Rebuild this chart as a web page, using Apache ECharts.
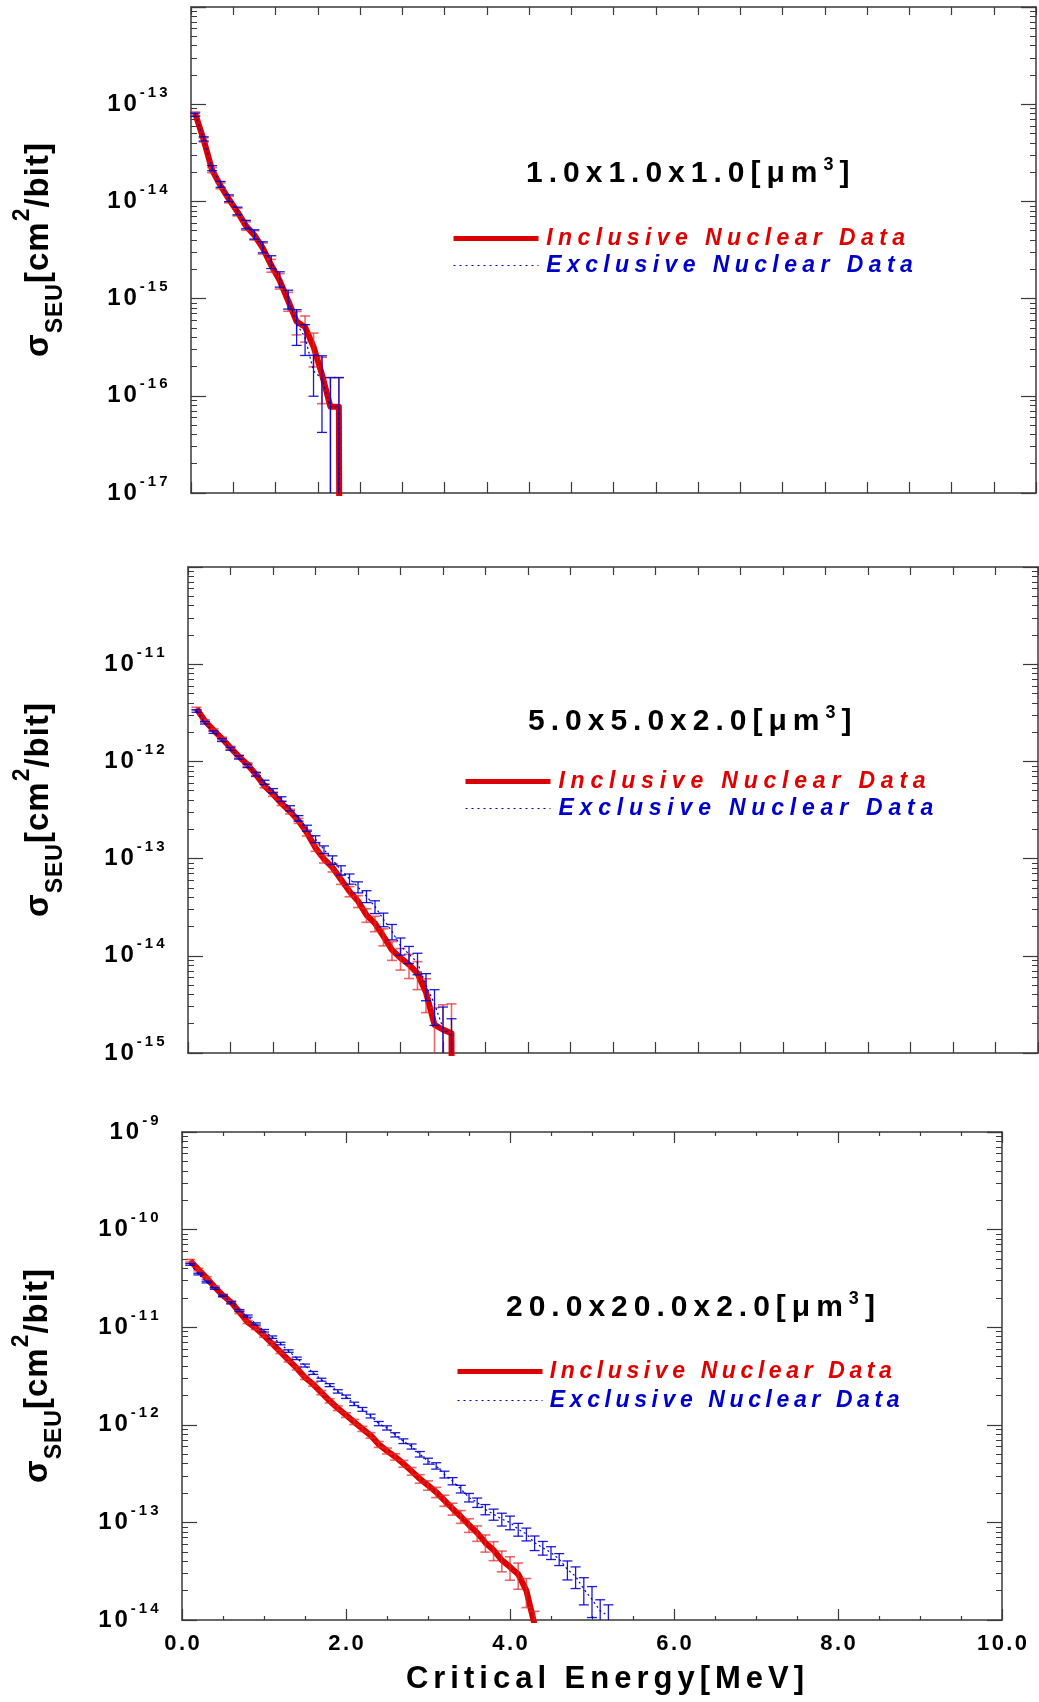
<!DOCTYPE html>
<html>
<head>
<meta charset="utf-8">
<script src="https://cdn.jsdelivr.net/npm/echarts@6.0.0/dist/echarts.min.js"></script>
<style>
html,body{margin:0;padding:0;background:#ffffff;}
#chart{width:1039px;height:1702px;}
</style>
</head>
<body>
<div id="chart"></div>
<script>
// ================= DATA =================
// Panel 1 : 1.0x1.0x1.0 [um^3]
const energy1 = [0.05,0.15,0.25,0.35,0.45,0.55,0.65,0.75,0.85,0.95,1.05,1.15,1.25,1.35,1.45,1.55,1.65,1.75,1.85];
const inclusive1 = [8.0e-14,4.3e-14,2.1e-14,1.45e-14,1.05e-14,7.8e-15,5.6e-15,4.5e-15,3.3e-15,2.2e-15,1.53e-15,9.5e-16,5.8e-16,5.1e-16,3.2e-16,1.66e-16,7.7e-17,7.7e-17,0];
const inclusiveErr1 = [0.04,0.05,0.06,0.07,0.08,0.09,0.1,0.11,0.13,0.15,0.18,0.22,0.27,0.3,0.38,0.5,1.0,1.0,0];
const exclusive1 = [7.8e-14,4.4e-14,2.2e-14,1.5e-14,1.08e-14,8.0e-15,5.8e-15,4.6e-15,3.4e-15,2.4e-15,1.6e-15,1.0e-15,5.5e-16,4.0e-16,1.8e-16,1.5e-16,7.7e-17,7.7e-17,0];
const exclusiveErr1 = [0.04,0.05,0.06,0.07,0.08,0.09,0.1,0.11,0.13,0.15,0.18,0.22,0.4,0.35,0.45,0.72,1.0,1.0,0];

// Panel 2 : 5.0x5.0x2.0 [um^3]
const energy2 = [0.1,0.2,0.3,0.4,0.5,0.6,0.7,0.8,0.9,1.0,1.1,1.2,1.3,1.4,1.5,1.6,1.7,1.8,1.9,2.0,2.1,2.2,2.3,2.4,2.5,2.6,2.7,2.8,2.9,3.0,3.1,3.2];
const inclusive2 = [3.5e-12,2.6e-12,2.1e-12,1.72e-12,1.38e-12,1.12e-12,9.3e-13,7.3e-13,5.6e-13,4.6e-13,3.7e-13,3.05e-13,2.45e-13,1.84e-13,1.29e-13,9.9e-14,8.1e-14,6.1e-14,4.6e-14,3.65e-14,2.63e-14,2.16e-14,1.58e-14,1.15e-14,9.5e-15,8.1e-15,6.6e-15,4.2e-15,1.95e-15,1.74e-15,1.6e-15,0];
const inclusiveErr2 = [0.03,0.03,0.03,0.03,0.035,0.035,0.04,0.04,0.045,0.05,0.05,0.055,0.06,0.07,0.08,0.09,0.1,0.11,0.12,0.14,0.16,0.18,0.2,0.22,0.25,0.28,0.32,0.38,0.5,0.8,1.0,0];
const exclusive2 = [3.3e-12,2.5e-12,2.0e-12,1.66e-12,1.35e-12,1.1e-12,9.0e-13,7.4e-13,6.1e-13,5.0e-13,4.1e-13,3.3e-13,2.6e-13,2.06e-13,1.59e-13,1.24e-13,9.7e-14,7.6e-14,6.2e-14,5.1e-14,4.1e-14,3.2e-14,2.37e-14,1.78e-14,1.27e-14,1.04e-14,8.5e-15,5.0e-15,3.2e-15,1.8e-15,1.5e-15,0];
const exclusiveErr2 = [0.03,0.03,0.03,0.035,0.035,0.04,0.04,0.045,0.05,0.05,0.055,0.06,0.065,0.07,0.08,0.09,0.1,0.11,0.12,0.13,0.14,0.15,0.16,0.18,0.2,0.2,0.25,0.31,0.4,0.65,0.5,0];

// Panel 3 : 20.0x20.0x2.0 [um^3]
const energy3 = [0.1,0.2,0.3,0.4,0.5,0.6,0.7,0.8,0.9,1.0,1.1,1.2,1.3,1.4,1.5,1.6,1.7,1.8,1.9,2.0,2.1,2.2,2.3,2.4,2.5,2.6,2.7,2.8,2.9,3.0,3.1,3.2,3.3,3.4,3.5,3.6,3.7,3.8,3.9,4.0,4.1,4.2,4.3,4.4,4.5,4.6,4.7,4.8,4.9,5.0,5.1,5.2];
const inclusive3 = [4.8e-11,3.9e-11,3.2e-11,2.57e-11,2.11e-11,1.8e-11,1.43e-11,1.13e-11,9.8e-12,8.2e-12,6.8e-12,5.6e-12,4.6e-12,3.8e-12,3.05e-12,2.6e-12,2.14e-12,1.76e-12,1.48e-12,1.26e-12,1.07e-12,9.1e-13,7.8e-13,6.3e-13,5.4e-13,4.7e-13,4.0e-13,3.35e-13,2.8e-13,2.4e-13,2.04e-13,1.68e-13,1.38e-13,1.15e-13,9.4e-14,7.8e-14,6.2e-14,5.2e-14,4.1e-14,3.5e-14,2.95e-14,2.0e-14,8.9e-15];
const inclusiveErr3 = [0.03,0.03,0.03,0.03,0.03,0.03,0.035,0.035,0.035,0.035,0.04,0.04,0.04,0.04,0.045,0.045,0.05,0.05,0.055,0.055,0.06,0.06,0.065,0.07,0.07,0.075,0.08,0.09,0.1,0.11,0.12,0.13,0.14,0.15,0.16,0.18,0.2,0.22,0.24,0.27,0.3,0.33,0.38];
const exclusive3 = [4.4e-11,3.5e-11,2.9e-11,2.5e-11,2.1e-11,1.78e-11,1.48e-11,1.3e-11,1.08e-11,9.2e-12,7.9e-12,6.8e-12,5.7e-12,4.8e-12,4.05e-12,3.4e-12,2.9e-12,2.55e-12,2.2e-12,1.94e-12,1.64e-12,1.44e-12,1.23e-12,1.03e-12,9.3e-13,7.9e-13,6.8e-13,6.0e-13,5.0e-13,4.25e-13,3.8e-13,3.1e-13,2.65e-13,2.2e-13,1.8e-13,1.6e-13,1.36e-13,1.21e-13,1.08e-13,1.0e-13,8.5e-14,7.6e-14,6.2e-14,5.5e-14,4.9e-14,4.2e-14,3.3e-14,2.8e-14,2.07e-14,1.63e-14,1.24e-14,1.1e-14];
const exclusiveErr3 = [0.02,0.02,0.02,0.02,0.02,0.025,0.025,0.025,0.025,0.03,0.03,0.03,0.03,0.03,0.035,0.035,0.035,0.035,0.04,0.04,0.04,0.045,0.045,0.05,0.05,0.05,0.055,0.06,0.065,0.07,0.075,0.08,0.085,0.09,0.1,0.11,0.12,0.13,0.15,0.16,0.15,0.15,0.17,0.16,0.15,0.14,0.22,0.25,0.31,0.35,0.3,0.3];

// Texts and axis ranges
const panelTitles = [['1.0x1.0x1.0[μm', '3', ']'], ['5.0x5.0x2.0[μm', '3', ']'], ['20.0x20.0x2.0[μm', '3', ']']];
const seriesNames = ['Inclusive Nuclear Data', 'Exclusive Nuclear Data'];
const yRanges = [[1e-17, 1e-12], [1e-15, 1e-10], [1e-14, 1e-9]];
const xRange = [0, 10];
const xAxisTitle = 'Critical Energy[MeV]';
const yAxisTitle = ['σ', 'SEU', '[cm', '2', '/bit]'];

// ================= LAYOUT / STYLE =================
const FONT = "'Liberation Sans', Arial, Helvetica, sans-serif";
const AX = '#3a3a3a';
const RED = '#dd0000';
const BLUE = '#0000cc';
const LAYOUT = [
  { grid: { left: 191, top: 7, width: 845, height: 486 }, title: { left: 523, cy: 174 }, legend: { left: 451, cy: 239, step: 28, pad: 2.7 }, nameGap: 124, topLabel: false, xLabels: false },
  { grid: { left: 188, top: 567, width: 850, height: 486 }, title: { left: 525, cy: 722 }, legend: { left: 463, cy: 782, step: 28, pad: 2.9 }, nameGap: 121, topLabel: false, xLabels: false },
  { grid: { left: 182, top: 1132, width: 820, height: 488 }, title: { left: 503, cy: 1308 }, legend: { left: 455, cy: 1372, step: 30, pad: 2.3 }, nameGap: 116, topLabel: true, xLabels: true }
];
const PANELS = [
  { x: energy1, inc: inclusive1, incErr: inclusiveErr1, exc: exclusive1, excErr: exclusiveErr1 },
  { x: energy2, inc: inclusive2, incErr: inclusiveErr2, exc: exclusive2, excErr: exclusiveErr2 },
  { x: energy3, inc: inclusive3, incErr: inclusiveErr3, exc: exclusive3, excErr: exclusiveErr3 }
];

// each character as its own rich token (gives the wide letter spacing of the original)
function sp(str, style) {
  return Array.from(str).map(function (ch) { return '{' + style + '|' + ch + '}'; }).join('');
}
function minorValues(lo, hi) {
  const out = [];
  const e0 = Math.round(Math.log10(lo)), e1 = Math.round(Math.log10(hi));
  for (let e = e0; e < e1; e++) for (let m = 2; m <= 9; m++) out.push(m * Math.pow(10, e));
  return out;
}
// zero counts are drawn down to the floor of the log axis
const FLOOR = 1e-40;
function lineData(xs, vals) {
  const d = [];
  for (let i = 0; i < vals.length; i++) d.push([xs[i], vals[i] > 0 ? vals[i] : FLOOR]);
  return d;
}
function errData(xs, vals, errs) {
  const d = [];
  for (let i = 0; i < vals.length; i++) if (vals[i] > 0) d.push([xs[i], vals[i], errs[i]]);
  return d;
}
function makeErrRender(color, width) {
  return function (params, api) {
    const x = api.value(0), v = api.value(1), e = api.value(2);
    const cs = params.coordSys;
    const top = cs.y, bot = cs.y + cs.height;
    const px = api.coord([x, v])[0];
    const hiV = v * (1 + e), loV = v * (1 - e);
    const yHi = api.coord([x, hiV])[1];
    const yLo = loV > 0 ? api.coord([x, loV])[1] : bot + 1;
    const clampY = function (y) { return Math.max(top, Math.min(bot, y)); };
    const st = { stroke: color, lineWidth: width };
    const hw = 5;
    const kids = [{ type: 'line', shape: { x1: px, y1: clampY(yHi), x2: px, y2: clampY(yLo) }, style: st }];
    if (yHi >= top && yHi <= bot) kids.push({ type: 'line', shape: { x1: px - hw, y1: yHi, x2: px + hw, y2: yHi }, style: st });
    if (yLo >= top && yLo <= bot) kids.push({ type: 'line', shape: { x1: px - hw, y1: yLo, x2: px + hw, y2: yLo }, style: st });
    return { type: 'group', children: kids };
  };
}

const yLabelRich = {
  b: { fontFamily: FONT, fontSize: 24, fontWeight: 'bold', color: '#000', lineHeight: 38, padding: [0, 1.5, 0, 1.5] },
  s: { fontFamily: FONT, fontSize: 15, fontWeight: 'bold', color: '#000', lineHeight: 15, verticalAlign: 'top', padding: [0, 1.5, 0, 1.5] }
};
const yNameRich = {
  m: { fontFamily: FONT, fontSize: 33, fontWeight: 'bold', color: '#000', lineHeight: 56, padding: [0, 0.5, 0, 0.5] },
  sub: { fontFamily: FONT, fontSize: 23, fontWeight: 'bold', color: '#000', lineHeight: 23, verticalAlign: 'top', padding: [33, 0.5, 0, 0.5] },
  sup: { fontFamily: FONT, fontSize: 23, fontWeight: 'bold', color: '#000', lineHeight: 23, verticalAlign: 'top', padding: [0, 0.5, 0, 0.5] }
};
const yNameText = sp(yAxisTitle[0], 'm') + sp(yAxisTitle[1], 'sub') + sp(yAxisTitle[2], 'm') + '{sup|' + yAxisTitle[3] + '}' + sp(yAxisTitle[4], 'm');

const grids = [], xAxes = [], yAxes = [], series = [], titles = [], legends = [];

PANELS.forEach(function (P, i) {
  const L = LAYOUT[i];
  const lo = yRanges[i][0], hi = yRanges[i][1];
  grids.push(Object.assign({ outerBoundsMode: 'none', containLabel: false }, L.grid));

  // x axes (bottom with labels on last panel, mirrored top)
  const xBase = {
    gridIndex: i, type: 'value', min: xRange[0], max: xRange[1],
    interval: L.xLabels ? 2 : 0.5,
    splitLine: { show: false }, minorSplitLine: { show: false },
    axisLine: { show: true, lineStyle: { color: AX, width: 1.5 } }
  };
  xAxes.push(Object.assign({}, xBase, {
    position: 'bottom',
    axisTick: { show: true, inside: true, length: 11, lineStyle: { color: AX, width: 1.2 } },
    minorTick: { show: L.xLabels, splitNumber: 4, length: 4, lineStyle: { color: AX, width: 1.2 } },
    axisLabel: {
      show: L.xLabels, margin: 13,
      formatter: function (v) { return sp(v.toFixed(1), 'x'); },
      rich: { x: { fontFamily: FONT, fontSize: 22, fontWeight: 'bold', color: '#000', padding: [0, 1.2, 0, 1.2] } }
    },
    name: L.xLabels ? sp(xAxisTitle, 'n') : '',
    nameLocation: 'middle', nameGap: 43,
    nameTextStyle: { padding: [0, 0, 0, 26], rich: { n: { fontFamily: FONT, fontSize: 31, fontWeight: 'bold', color: '#000', lineHeight: 32, padding: [0, 2.5, 0, 2.5] } } }
  }));
  xAxes.push(Object.assign({}, xBase, {
    position: 'top',
    axisTick: { show: true, inside: true, length: L.xLabels ? 11 : 8, lineStyle: { color: AX, width: 1.2 } },
    minorTick: { show: L.xLabels, splitNumber: 4, length: 4, lineStyle: { color: AX, width: 1.2 } },
    axisLabel: { show: false }
  }));

  // y axes: left major (labels + name), left minor, right major, right minor
  const yBase = { gridIndex: i, type: 'log', logBase: 10, min: lo, max: hi, splitNumber: 5, splitLine: { show: false } };
  const topExp = Math.round(Math.log10(hi));
  yAxes.push(Object.assign({}, yBase, {
    position: 'left',
    axisLine: { show: true, lineStyle: { color: AX, width: 1.5 } },
    axisTick: { show: true, inside: true, length: 15, lineStyle: { color: AX, width: 1.2 } },
    axisLabel: {
      show: true, margin: 22,
      formatter: function (v) {
        const p = Math.round(Math.log10(v));
        if (!L.topLabel && p === topExp) return '';
        return sp('10', 'b') + sp(String(p), 's');
      },
      rich: yLabelRich
    },
    name: yNameText, nameLocation: 'middle', nameRotate: 90, nameGap: L.nameGap,
    nameTextStyle: { rich: yNameRich }
  }));
  yAxes.push(Object.assign({}, yBase, {
    position: 'left', axisLine: { show: false }, axisLabel: { show: false },
    axisTick: { show: true, inside: true, length: 6, customValues: minorValues(lo, hi), lineStyle: { color: AX, width: 1 } }
  }));
  yAxes.push(Object.assign({}, yBase, {
    position: 'right',
    axisLine: { show: true, lineStyle: { color: AX, width: 1.5 } },
    axisTick: { show: true, inside: true, length: 15, lineStyle: { color: AX, width: 1.2 } },
    axisLabel: { show: false }
  }));
  yAxes.push(Object.assign({}, yBase, {
    position: 'right', axisLine: { show: false }, axisLabel: { show: false },
    axisTick: { show: true, inside: true, length: 6, customValues: minorValues(lo, hi), lineStyle: { color: AX, width: 1 } }
  }));

  const xi = 2 * i, yi = 4 * i;
  series.push({
    type: 'line', name: seriesNames[0], xAxisIndex: xi, yAxisIndex: yi,
    data: lineData(P.x, P.inc), symbol: 'none', clip: true, z: 2,
    lineStyle: { color: RED, width: 6, join: 'round' }, itemStyle: { color: RED }
  });
  series.push({
    type: 'custom', name: 'inclusive-errors', xAxisIndex: xi, yAxisIndex: yi, silent: true, z: 3,
    renderItem: makeErrRender('rgba(228,40,40,0.7)', 1.6), data: errData(P.x, P.inc, P.incErr)
  });
  series.push({
    type: 'custom', name: 'exclusive-errors', xAxisIndex: xi, yAxisIndex: yi, silent: true, z: 4,
    renderItem: makeErrRender('rgba(0,0,210,0.9)', 1.3), data: errData(P.x, P.exc, P.excErr)
  });
  series.push({
    type: 'line', name: seriesNames[1], xAxisIndex: xi, yAxisIndex: yi,
    data: lineData(P.x, P.exc), symbol: 'none', clip: true, z: 5,
    lineStyle: { color: BLUE, width: 1.2, type: [2, 3] }, itemStyle: { color: BLUE }
  });

  const T = panelTitles[i];
  titles.push({
    left: L.title.left, top: L.title.cy - 18, padding: 0,
    text: sp(T[0], 't') + '{u|' + T[1] + '}' + sp(T[2], 't'),
    textStyle: {
      rich: {
        t: { fontFamily: FONT, fontSize: 30, fontWeight: 'bold', color: '#000', lineHeight: 36, padding: [0, 3, 0, 3] },
        u: { fontFamily: FONT, fontSize: 18, fontWeight: 'bold', color: '#000', lineHeight: 18, verticalAlign: 'top', padding: [0, 3, 0, 3] }
      }
    }
  });

  const pad = L.legend.pad;
  legends.push({
    orient: 'vertical', left: L.legend.left, top: L.legend.cy - 12, padding: 0,
    itemWidth: 85, itemHeight: 14, itemGap: L.legend.step - 24, selectedMode: false,
    itemStyle: { opacity: 0 },
    data: [
      { name: seriesNames[0], lineStyle: { width: 5, color: RED } },
      { name: seriesNames[1], lineStyle: { width: 1.2, color: BLUE, type: [2, 4] } }
    ],
    formatter: function (name) { return sp(name, name === seriesNames[0] ? 'r' : 'e'); },
    textStyle: {
      rich: {
        r: { fontFamily: FONT, fontSize: 23, fontStyle: 'italic', fontWeight: 'bold', color: '#e00000', lineHeight: 24, padding: [0, pad, 0, pad] },
        e: { fontFamily: FONT, fontSize: 23, fontStyle: 'italic', fontWeight: 'bold', color: '#0000cc', lineHeight: 24, padding: [0, pad, 0, pad] }
      }
    }
  });
});

const chart = echarts.init(document.getElementById('chart'), null, { renderer: 'canvas' });
chart.setOption({
  animation: false,
  backgroundColor: '#ffffff',
  textStyle: { fontFamily: FONT },
  title: titles,
  legend: legends,
  grid: grids,
  xAxis: xAxes,
  yAxis: yAxes,
  series: series
});
</script>
</body>
</html>
